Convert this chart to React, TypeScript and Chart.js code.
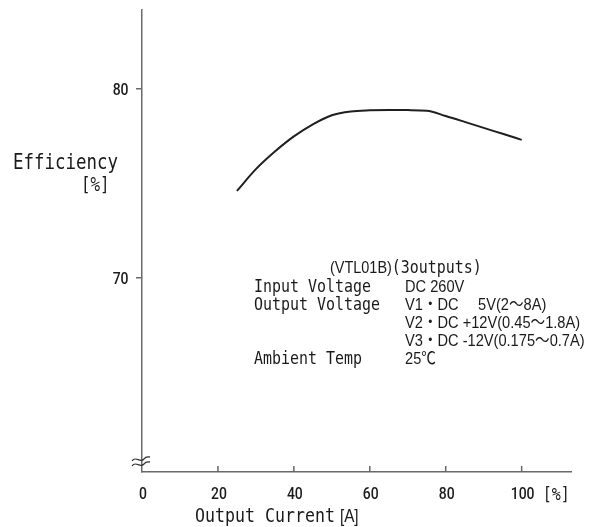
import React, { useEffect, useRef } from "react";
import { Chart, registerables } from "chart.js";

Chart.register(...registerables);

// ---- data ----
const loadPercent = [25, 30, 35, 40, 45, 50, 55, 60, 65, 70, 75, 80, 85, 90, 95, 100];
const efficiency = [74.6, 75.75, 76.68, 77.48, 78.12, 78.6, 78.8, 78.86, 78.88, 78.87, 78.84, 78.56, 78.25, 77.93, 77.62, 77.3];
const xTicks = [0, 20, 40, 60, 80, 100];
const yTicks = [70, 80];
const infoLabels = ["Input Voltage", "Output Voltage", "", "", "Ambient Temp"];
const infoValues = ["DC 260V", "V1・DC", "V2・DC +12V(0.45～1.8A)", "V3・DC -12V(0.175～0.7A)", "25℃"];
const v1Tail = "5V(2～8A)";
const titleModel = "(VTL01B)";
const titleOutputs = "(3outputs)";

const MONO = "'DejaVu Sans Mono', monospace";
const SANS = "'Liberation Sans', Arial, 'Noto Sans CJK JP', sans-serif";
const NUM = "Roboto, 'Liberation Sans', sans-serif";

function txt(
  ctx: CanvasRenderingContext2D,
  s: string,
  x: number,
  y: number,
  font: string,
  sx = 1,
  align: "left" | "right" | "center" = "left"
): number {
  ctx.save();
  ctx.font = font;
  ctx.textBaseline = "alphabetic";
  ctx.textAlign = "left";
  ctx.fillStyle = "#1a1a1a";
  const w = ctx.measureText(s).width * sx;
  const dx = align === "right" ? -w : align === "center" ? -w / 2 : 0;
  ctx.translate(x + dx, y);
  ctx.scale(sx, 1);
  ctx.fillText(s, 0, 0);
  ctx.restore();
  return w;
}

const decorPlugin = {
  id: "decor",
  afterDraw(chart: any) {
    const ctx: CanvasRenderingContext2D = chart.ctx;
    const { left, bottom } = chart.chartArea;
    const xs = chart.scales.x;
    const ys = chart.scales.y;

    // inward x ticks
    ctx.save();
    ctx.strokeStyle = "#666";
    ctx.lineWidth = 1.5;
    xs.ticks.forEach((t: any) => {
      if (t.value === 0) return;
      const px = xs.getPixelForValue(t.value);
      ctx.beginPath();
      ctx.moveTo(px, bottom);
      ctx.lineTo(px, bottom - 6);
      ctx.stroke();
    });
    // axis break mark
    ctx.strokeStyle = "#333";
    ctx.lineWidth = 1.3;
    for (let k = 0; k < 2; k++) {
      const y0 = bottom - 13 + k * 5;
      ctx.beginPath();
      ctx.moveTo(left - 10, y0 + 2);
      ctx.bezierCurveTo(left - 6, y0 - 4, left - 2, y0 + 5, left + 2, y0);
      ctx.bezierCurveTo(left + 4, y0 - 3, left + 6, y0 - 2, left + 8, y0 - 2);
      ctx.stroke();
    }
    ctx.restore();

    // tick labels from the scales
    const numFont = `500 17px ${NUM}`;
    xs.ticks.forEach((t: any) => {
      txt(ctx, String(t.value), xs.getPixelForValue(t.value) + 1, 499, numFont, 0.82, "center");
    });
    ys.ticks.forEach((t: any) => {
      txt(ctx, String(t.value), 128.5, ys.getPixelForValue(t.value) + 6, numFont, 0.82, "right");
    });

    // y-axis title
    txt(ctx, "Efficiency", 13, 169, `21px ${MONO}`, 0.83);
    txt(ctx, "[%]", 81, 191, `19px ${MONO}`, 0.83);

    // x-axis unit and title
    txt(ctx, "[%]", xs.getPixelForValue(100) + 21, 500, `18px ${MONO}`, 0.83);
    const w = txt(ctx, "Output Current ", 195, 522, `20px ${MONO}`, 0.83);
    txt(ctx, "[A]", 195 + w - 5, 522, `18px ${SANS}`, 0.85);

    // info block
    const lx = 254;
    const vx = 405;
    const rowY = [292, 310, 328, 346, 364];
    const mw = txt(ctx, titleModel, 330, 273, `17px ${SANS}`, 0.85);
    txt(ctx, titleOutputs, 330 + mw, 273, `18px ${MONO}`, 0.83);
    infoLabels.forEach((l, i) => {
      if (l) txt(ctx, l, lx, rowY[i], `18px ${MONO}`, 0.83);
    });
    infoValues.forEach((v, i) => {
      txt(ctx, v, vx, rowY[i], `17px ${SANS}`, 0.86);
    });
    txt(ctx, v1Tail, 478, rowY[1], `17px ${SANS}`, 0.86);
  },
};

export default function App() {
  const ref = useRef<HTMLCanvasElement | null>(null);
  useEffect(() => {
    if (!ref.current) return;
    const chart = new Chart(ref.current, {
      type: "line",
      data: {
        datasets: [
          {
            data: loadPercent.map((x, i) => ({ x, y: efficiency[i] })),
            borderColor: "#1f1f1f",
            borderWidth: 2,
            pointRadius: 0,
            cubicInterpolationMode: "monotone",
            fill: false,
          },
        ],
      },
      options: {
        animation: false,
        responsive: true,
        maintainAspectRatio: false,
        devicePixelRatio: 1,
        layout: { padding: { top: 10, right: 19, left: 0, bottom: 0 } },
        plugins: { legend: { display: false }, tooltip: { enabled: false } },
        scales: {
          x: {
            type: "linear",
            min: 0,
            max: 113,
            afterBuildTicks: (s: any) => {
              s.ticks = xTicks.map((v) => ({ value: v }));
            },
            afterFit: (s: any) => {
              s.height = 55;
              s.paddingLeft = 0;
              s.paddingRight = 0;
            },
            grid: { display: false, drawTicks: false },
            border: { display: true, color: "#6a6a6a", width: 1.5 },
            ticks: { display: false },
          },
          y: {
            type: "linear",
            min: 59.75,
            max: 84.16,
            afterBuildTicks: (s: any) => {
              s.ticks = yTicks.map((v) => ({ value: v }));
            },
            afterFit: (s: any) => {
              s.width = 142;
              s.paddingTop = 0;
              s.paddingBottom = 0;
            },
            grid: {
              display: true,
              drawOnChartArea: false,
              drawTicks: true,
              tickLength: 6,
              color: "#6a6a6a",
              lineWidth: 1.5,
            },
            border: { display: true, color: "#6a6a6a", width: 1.5 },
            ticks: { display: false },
          },
        },
      },
      plugins: [decorPlugin],
    } as any);
    return () => chart.destroy();
  }, []);
  return (
    <div style={{ position: "absolute", left: 0, top: 0, width: 590, height: 527, background: "#fff" }}>
      <canvas ref={ref} />
    </div>
  );
}
